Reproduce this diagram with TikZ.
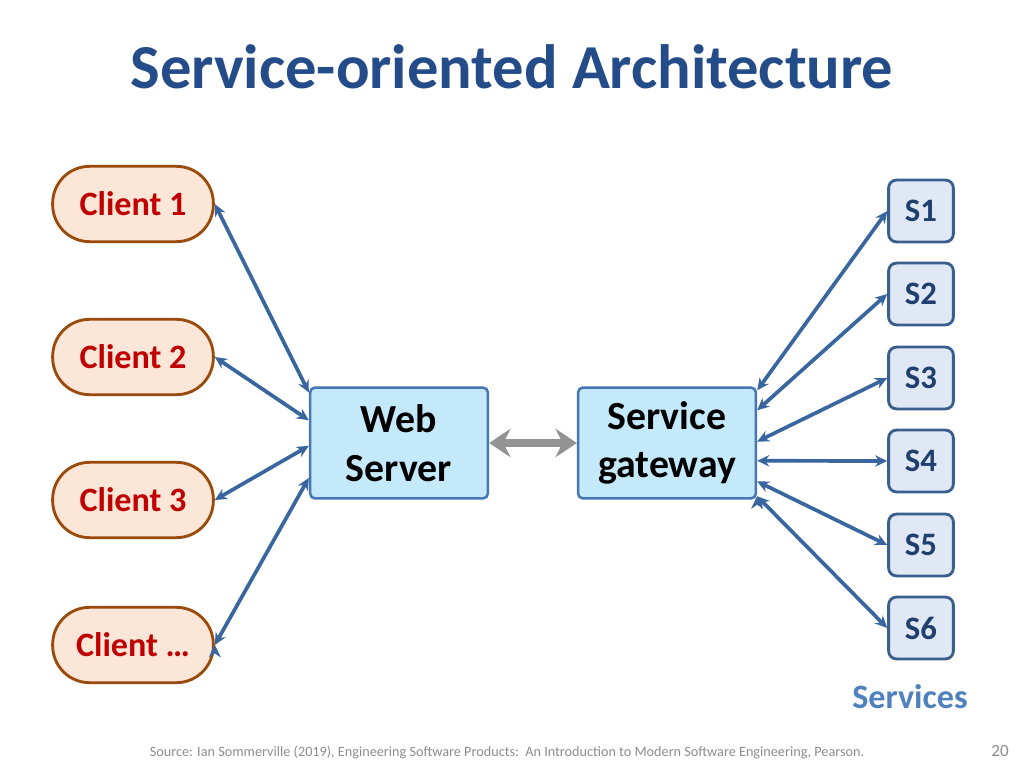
\documentclass[tikz,border=0pt]{standalone}
\usepackage{fontspec}
\setmainfont{Carlito}
\usetikzlibrary{arrows.meta}

\definecolor{titleblue}{HTML}{244C89}
\definecolor{clientfill}{HTML}{FCE6D8}
\definecolor{clientline}{HTML}{9A4A0A}
\definecolor{clienttext}{HTML}{C00000}
\definecolor{serverfill}{HTML}{C4E9FB}
\definecolor{serverline}{HTML}{4677B4}
\definecolor{svcfill}{HTML}{DFE8F4}
\definecolor{svcline}{HTML}{3A5F8E}
\definecolor{svctext}{HTML}{1F3F6E}
\definecolor{linkblue}{HTML}{3A66A0}
\definecolor{lightblue}{HTML}{4F81BD}
\definecolor{notegray}{HTML}{8C8C8C}

\tikzset{
  client/.style={draw=clientline,fill=clientfill,line width=2pt,rounded corners=26pt,
    minimum width=113pt,minimum height=53pt,text=clienttext,
    font=\fontsize{24}{28}\selectfont\bfseries},
  server/.style={draw=serverline,fill=serverfill,line width=1.8pt,rounded corners=3.5pt,
    minimum width=125pt,minimum height=78pt,align=center,
    font=\fontsize{28}{34}\selectfont\bfseries},
  svc/.style={draw=svcline,fill=svcfill,line width=2pt,rounded corners=5.5pt,
    minimum width=45.5pt,minimum height=43.5pt,text=svctext,
    font=\fontsize{23}{27}\selectfont\bfseries},
  link/.style={draw=linkblue,line width=2.6pt,{Stealth[length=8.5pt,width=8pt]}-{Stealth[length=8.5pt,width=8pt]}},
  bigarrow/.style={draw=gray!85,line width=5pt,{Stealth[length=15pt,width=20pt,inset=5pt]}-{Stealth[length=15pt,width=20pt,inset=5pt]}}
}

\begin{document}
\begin{tikzpicture}[x=0.703125pt,y=-0.703125pt]
            \useasboundingbox (0,0) rectangle (1024,768);
            \node[text=titleblue,font=\fontsize{44}{52}\selectfont\bfseries](title)at(512, 67){Service-oriented Architecture};
            % clients
            \node[client](c1)at(133, 204){Client 1};
            \node[client](c2)at(133, 357){Client 2};
            \node[client](c3)at(133, 500){Client 3};
            \node[client](c4)at(133, 645){Client \dots};
            % web server and gateway
            \node[server](ws)at(399, 443){Web\\Server};
            \node[server](gw)at(667, 443){Service\\gateway};
            % services
            \node[svc](s1)at(921, 211){S1};
            \node[svc](s2)at(921, 294){S2};
            \node[svc](s3)at(921, 378){S3};
            \node[svc](s4)at(921, 461){S4};
            \node[svc](s5)at(921, 545){S5};
            \node[svc](s6)at(921, 628){S6};
            \node[text=lightblue,font=\fontsize{24}{28}\selectfont\bfseries](svclabel)at(910, 697){Services};
            \path[link](c1.east) edge ([yshift=35.5pt]ws.west)
            (c2.east) edge ([yshift=16pt]ws.west)
            (c3.east) edge ([yshift=-2pt]ws.west)
            (c4.east) edge ([yshift=-24.5pt]ws.west);
            \path[link]([yshift=37pt]gw.east) edge (s1.west)
            ([yshift=23pt]gw.east) edge (s2.west)
            ([yshift=1pt]gw.east) edge (s3.west)
            ([yshift=-12.5pt]gw.east) edge (s4.west)
            ([yshift=-27pt]gw.east) edge (s5.west)
            ([yshift=-37.5pt]gw.east) edge (s6.west);
            \draw[bigarrow](ws.east) -- (gw.west);
            \node[text=notegray,font=\fontsize{10}{12}\selectfont](source)at(507, 753){Source: Ian Sommerville (2019), Engineering Software Products:\ \ An Introduction to Modern Software Engineering, Pearson.};
            \node[text=notegray,font=\fontsize{12}{14}\selectfont](page)at(1000, 751){20};
        \end{tikzpicture}
\end{document}
